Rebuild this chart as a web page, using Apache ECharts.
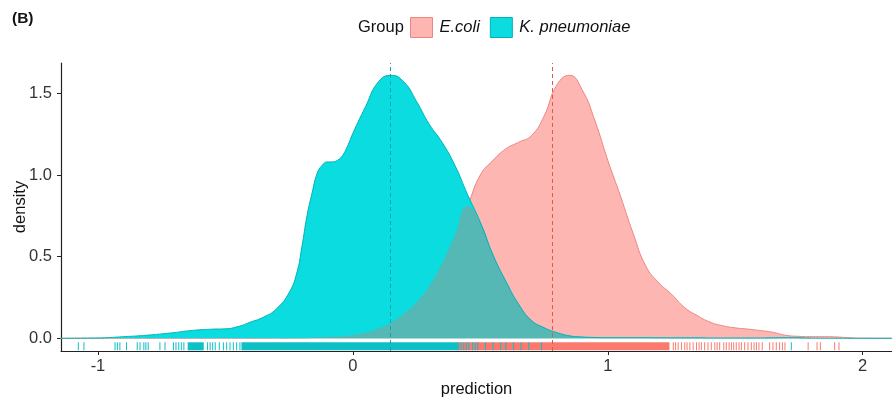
<!DOCTYPE html>
<html>
<head>
<meta charset="utf-8">
<script src="https://cdn.jsdelivr.net/npm/echarts@6/dist/echarts.min.js"></script>
<style>
html,body{margin:0;padding:0;background:#fff;}
#chart{width:892px;height:399px;}
</style>
</head>
<body>
<div id="chart"></div>
<script>
// ---- data ----
const groups = ['E.coli', 'K. pneumoniae'];
const xGrid = [-1.15,-1.0,-0.95,-0.9,-0.85,-0.8,-0.75,-0.7,-0.65,-0.6,-0.55,-0.5,-0.45,-0.4,-0.35,-0.3,-0.25,-0.22,-0.2,-0.18,-0.16,-0.14,-0.12,-0.1,-0.08,-0.06,-0.04,-0.02,0,0.05,0.1,0.15,0.2,0.25,0.3,0.35,0.4,0.45,0.5,0.55,0.6,0.65,0.7,0.75,0.8,0.85,0.9,0.95,1.0,1.05,1.1,1.15,1.2,1.25,1.3,1.35,1.4,1.45,1.5,1.55,1.6,1.65,1.7,1.75,1.8,1.85,1.9,1.95,2.0,2.15];
const densityEcoli = [0,0,0,0,0,0,0,0,0,0,0,0,0,0,0,0.001,0.002,0.003,0.003,0.004,0.005,0.006,0.007,0.008,0.009,0.011,0.013,0.016,0.02,0.035,0.06,0.095,0.15,0.22,0.32,0.46,0.63,0.81,1.0,1.09,1.16,1.2,1.24,1.36,1.55,1.61,1.52,1.33,1.09,0.87,0.64,0.44,0.34,0.27,0.19,0.14,0.1,0.077,0.064,0.056,0.047,0.036,0.018,0.012,0.01,0.01,0.008,0.003,0.001,0];
const densityKpn = [0,0.002,0.005,0.01,0.014,0.02,0.027,0.035,0.045,0.052,0.056,0.058,0.072,0.1,0.13,0.18,0.28,0.4,0.56,0.75,0.89,1.01,1.06,1.08,1.08,1.09,1.12,1.18,1.255,1.42,1.57,1.61,1.57,1.45,1.31,1.2,1.06,0.88,0.71,0.51,0.35,0.21,0.11,0.065,0.035,0.015,0.008,0.005,0.004,0.004,0.004,0.004,0.003,0.003,0.003,0.003,0.002,0.002,0.002,0.002,0.002,0.003,0.004,0.003,0.001,0,0,0,0,0];
const medianEcoli = 0.783;
const medianKpn = 0.145;
const rugKpnBands = [[-0.646,-0.587],[-0.435,0.41]];
const rugKpnTicks = [-1.077,-1.055,-0.933,-0.924,-0.914,-0.888,-0.846,-0.835,-0.82,-0.812,-0.803,-0.757,-0.737,-0.704,-0.694,-0.683,-0.673,-0.663,-0.57,-0.56,-0.55,-0.54,-0.524,-0.508,-0.495,-0.482,-0.469,-0.456,-0.443,0.415,0.425,0.435,0.445,0.455,0.47,0.48,0.49,0.52,0.55,0.58,0.6,0.63,0.66,0.69,0.74,1.72];
const rugEcoliBands = [[0.41,1.24]];
const rugEcoliTicks = [1.257,1.266,1.276,1.289,1.302,1.311,1.322,1.335,1.348,1.358,1.367,1.38,1.393,1.406,1.42,1.429,1.439,1.455,1.465,1.476,1.485,1.494,1.504,1.515,1.524,1.537,1.55,1.563,1.574,1.583,1.593,1.606,1.635,1.648,1.661,1.674,1.685,1.695,1.786,1.821,1.834,1.89,1.907];
const yTicks = [0, 0.5, 1.0, 1.5];
const xTicks = [-1, 0, 1, 2];

// ---- styles ----
const C = {
  eFill: '#FDB6B2', eLine: '#EE8580', eRug: '#FA7A70', eMed: '#E5574D',
  kFill: '#0ADCDF', kLine: '#00B3B7', kRug: '#0CC0C6', kMed: '#1AA3A6',
  overlap: '#55B8B5'
};
const FONT = '"Liberation Sans", Arial, sans-serif';
const FS = 16.5;
const Y_MIN = -0.0778, Y_MAX = 1.6856;

const pairs = ys => xGrid.map((x, i) => [x, ys[i]]);
const overlapVals = densityEcoli.map((v, i) => Math.min(v, densityKpn[i]));

function rugData(bands, ticks) {
  return bands.map(b => [b[0], b[1], 0]).concat(ticks.map(t => [t, t, 0]));
}
function rugSeries(name, bands, ticks, color) {
  return {
    type: 'custom', name: name + ' rug', silent: true, z: 6,
    encode: { x: [0, 1], y: 2 },
    data: rugData(bands, ticks),
    renderItem: function (params, api) {
      const a = api.coord([api.value(0), 0]);
      const b = api.coord([api.value(1), 0]);
      const w = Math.max(b[0] - a[0], 0) + 1;
      return { type: 'rect', shape: { x: a[0] - 0.5, y: a[1] + 4, width: w, height: 8 },
               style: { fill: color } };
    }
  };
}
function medianSeries(name, median, color) {
  return {
    type: 'custom', name: name + ' median', silent: true, z: 8,
    encode: { x: 0, y: 1 },
    data: [[median, 0]],
    renderItem: function (params, api) {
      const bot = api.coord([api.value(0), Y_MIN]);
      const top = api.coord([api.value(0), Y_MAX]);
      const x = Math.round(bot[0]) + 0.5;
      return { type: 'line', shape: { x1: x, y1: bot[1], x2: x, y2: top[1] },
               style: { stroke: color, lineWidth: 1, lineDash: [4, 3] } };
    }
  };
}
const areaBase = { type: 'line', showSymbol: false, smooth: 0.5, silent: true };

const chart = echarts.init(document.getElementById('chart'), null, { renderer: 'canvas' });
chart.setOption({
  animation: false,
  textStyle: { fontFamily: FONT },
  grid: { left: 61, right: 0, top: 63, bottom: 48, containLabel: false, outerBoundsMode: 'none' },
  legend: {
    left: 405, top: 12, itemWidth: 22, itemHeight: 20, itemGap: 10,
    icon: 'rect',
    data: [
      { name: groups[0], itemStyle: { color: C.eFill, borderColor: C.eLine, borderWidth: 1 } },
      { name: groups[1], itemStyle: { color: C.kFill, borderColor: C.kLine, borderWidth: 1 } }
    ],
    textStyle: { fontSize: FS, fontStyle: 'italic', color: '#111', fontFamily: FONT, padding: [0,0,0,2] },
    selectedMode: false
  },
  graphic: [
    { type: 'text', left: 12, top: 11, style: { text: '(B)', fontSize: FS - 1, fontWeight: 'bold', fill: '#111', fontFamily: FONT } },
    { type: 'text', left: 358, top: 19, style: { text: 'Group', fontSize: FS, fill: '#111', fontFamily: FONT } }
  ],
  xAxis: {
    type: 'value', min: -1.145, max: 2.115,
    name: 'prediction', nameLocation: 'middle', nameGap: 30, nameMoveOverlap: false,
    nameTextStyle: { fontSize: FS, color: '#111', fontFamily: FONT },
    axisLine: { onZero: false, lineStyle: { color: '#222', width: 1.2 } },
    axisTick: { customValues: xTicks, length: 4, lineStyle: { color: '#222' } },
    axisLabel: { customValues: xTicks, fontSize: FS, color: '#333', margin: 7, formatter: v => String(v) },
    splitLine: { show: false }
  },
  yAxis: {
    type: 'value', min: Y_MIN, max: Y_MAX,
    name: 'density', nameLocation: 'middle', nameGap: 32, nameMoveOverlap: false,
    nameTextStyle: { fontSize: FS, color: '#111', fontFamily: FONT },
    axisLine: { show: true, onZero: false, lineStyle: { color: '#222', width: 1.2 } },
    axisTick: { show: true, customValues: yTicks, length: 4, lineStyle: { color: '#222' } },
    axisLabel: { customValues: yTicks, fontSize: FS, color: '#333', margin: 9, formatter: v => v.toFixed(1) },
    splitLine: { show: false }
  },
  series: [
    Object.assign({}, areaBase, { name: groups[0], z: 1, data: pairs(densityEcoli),
      lineStyle: { width: 0 }, itemStyle: { color: C.eFill }, areaStyle: { color: C.eFill, opacity: 1 } }),
    Object.assign({}, areaBase, { name: groups[0], z: 1.5, data: pairs(densityEcoli),
      lineStyle: { width: 1, color: C.eLine }, itemStyle: { color: C.eFill } }),
    Object.assign({}, areaBase, { name: groups[1], z: 2, data: pairs(densityKpn),
      lineStyle: { width: 0 }, itemStyle: { color: C.kFill }, areaStyle: { color: C.kFill, opacity: 1 } }),
    Object.assign({}, areaBase, { name: 'overlap', z: 3, data: pairs(overlapVals),
      lineStyle: { width: 0 }, areaStyle: { color: C.overlap, opacity: 1 } }),
    Object.assign({}, areaBase, { name: groups[1], z: 5, data: pairs(densityKpn),
      lineStyle: { width: 1, color: C.kLine }, itemStyle: { color: C.kFill } }),
    rugSeries(groups[0], rugEcoliBands, rugEcoliTicks, C.eRug),
    rugSeries(groups[1], rugKpnBands, rugKpnTicks, C.kRug),
    medianSeries(groups[1], medianKpn, C.kMed),
    medianSeries(groups[0], medianEcoli, C.eMed)
  ]
});
</script>
</body>
</html>
